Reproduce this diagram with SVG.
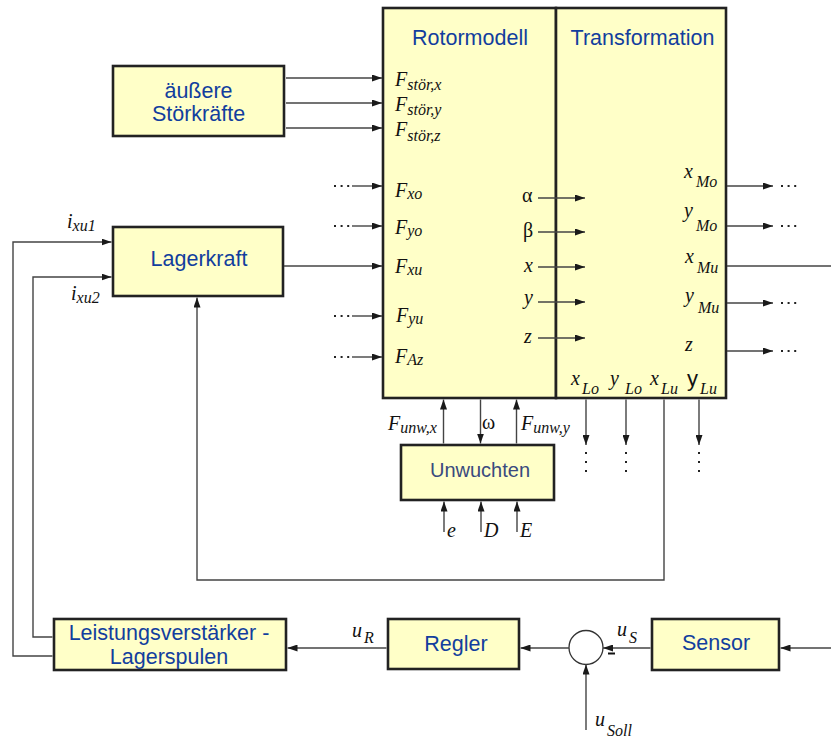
<svg xmlns="http://www.w3.org/2000/svg" width="831" height="738" viewBox="0 0 831 738">
<defs>
<marker id="ah" viewBox="0 0 10 7" refX="10" refY="3.5" markerWidth="10" markerHeight="7" markerUnits="userSpaceOnUse" orient="auto">
<path d="M0,0 L10,3.5 L0,7 z" fill="#1a1a1a"/>
</marker>
<style>
.box{fill:#ffffc8;stroke:#222;stroke-width:2.6}
.ln{fill:none;stroke:#444;stroke-width:1.4}
.ar{fill:none;stroke:#444;stroke-width:1.4;marker-end:url(#ah)}
.dots{fill:none;stroke:#222;stroke-width:2;stroke-dasharray:2 4.6}
.t{font-family:"Liberation Sans",Arial,sans-serif;font-size:21.5px;fill:#123e9e;text-anchor:middle}
.m{font-family:"Liberation Serif","Times New Roman",serif;font-style:italic;font-size:20px;fill:#111}
.s{font-size:16px}
.g{font-family:"Liberation Serif","Times New Roman",serif;font-size:20px;fill:#111}
</style>
</defs>

<g id="rotormodell">
<rect class="box" x="383" y="8" width="173" height="390"/>
<text class="t" x="470" y="45">Rotormodell</text>
<text class="m" x="395" y="86">F<tspan class="s" dy="4">stör,x</tspan></text>
<text class="m" x="395" y="110.5">F<tspan class="s" dy="4.5">stör,y</tspan></text>
<text class="m" x="395" y="136">F<tspan class="s" dy="5">stör,z</tspan></text>
<text class="m" x="395" y="197">F<tspan class="s" dy="2">xo</tspan></text>
<text class="m" x="395" y="234">F<tspan class="s" dy="2">yo</tspan></text>
<text class="m" x="395" y="273">F<tspan class="s" dy="2">xu</tspan></text>
<text class="m" x="396" y="321.5">F<tspan class="s" dy="2">yu</tspan></text>
<text class="m" x="395" y="363">F<tspan class="s" dy="2">Az</tspan></text>
<text class="g" x="522" y="202">α</text>
<text class="g" x="523" y="237">β</text>
<text class="m" x="524" y="271.5">x</text>
<text class="m" x="524" y="304">y</text>
<text class="m" x="524" y="343">z</text>
</g>

<g id="transformation">
<rect class="box" x="556" y="8" width="170" height="390"/>
<text class="t" x="642.5" y="45">Transformation</text>
<text class="m" x="684" y="178">x<tspan class="s" x="696" y="187">Mo</tspan></text>
<text class="m" x="684" y="217">y<tspan class="s" x="696" y="231">Mo</tspan></text>
<text class="m" x="685" y="263">x<tspan class="s" x="697" y="273">Mu</tspan></text>
<text class="m" x="685" y="302">y<tspan class="s" x="698" y="313">Mu</tspan></text>
<text class="m" x="685" y="351">z</text>
<text class="m" x="571" y="385">x<tspan class="s" x="582" y="394">Lo</tspan></text>
<text class="m" x="610" y="385">y<tspan class="s" x="625" y="394">Lo</tspan></text>
<text class="m" x="650" y="385">x<tspan class="s" x="661" y="394">Lu</tspan></text>
<text x="687" y="386" style="font-family:'Liberation Sans',Arial,sans-serif;font-size:22px;fill:#111">y<tspan class="m s" x="700" y="394">Lu</tspan></text>
</g>

<g id="stoerkraefte">
<rect class="box" x="113" y="66" width="171" height="70"/>
<text class="t" x="198.5" y="98">äußere</text>
<text class="t" x="198.5" y="121">Störkräfte</text>
</g>

<g id="lagerkraft">
<rect class="box" x="113" y="227" width="170" height="69"/>
<text class="t" x="199" y="266">Lagerkraft</text>
<text class="m" x="67" y="228">i<tspan class="s" dy="3">xu1</tspan></text>
<text class="m" x="71" y="300">i<tspan class="s" dy="3">xu2</tspan></text>
</g>

<g id="unwuchten">
<rect class="box" x="401" y="445" width="153" height="55"/>
<text class="t" x="480" y="477" style="fill:#3a4a7e;font-size:20px">Unwuchten</text>
<text class="m" x="388" y="430">F<tspan class="s" dy="3">unw,x</tspan></text>
<text class="g" x="482" y="429">ω</text>
<text class="m" x="521" y="430">F<tspan class="s" dy="3">unw,y</tspan></text>
<text class="m" x="447" y="537">e</text>
<text class="m" x="484" y="537">D</text>
<text class="m" x="520" y="537">E</text>
</g>

<g id="leistungsverstaerker">
<rect class="box" x="54" y="619" width="232" height="51"/>
<text class="t" x="169" y="640">Leistungsverstärker -</text>
<text class="t" x="169" y="664">Lagerspulen</text>
</g>

<g id="regler">
<rect class="box" x="388" y="619" width="131" height="50"/>
<text class="t" x="456" y="651">Regler</text>
<text class="m" x="352" y="637">u<tspan class="s" x="364" y="643">R</tspan></text>
</g>

<g id="summe">
<circle cx="586" cy="647.5" r="17" fill="#fff" stroke="#333" stroke-width="1.3"/>
<line x1="608" y1="653.5" x2="615" y2="653.5" stroke="#111" stroke-width="2"/>
<text class="m" x="617" y="636">u<tspan class="s" x="629" y="643">S</tspan></text>
<text class="m" x="595" y="726">u<tspan class="s" x="607" y="736">Soll</tspan></text>
</g>

<g id="sensor">
<rect class="box" x="652" y="619" width="127" height="51"/>
<text class="t" x="716" y="650">Sensor</text>
</g>

<g id="connectors">
<line class="ar" x1="286" y1="78" x2="382" y2="78"/>
<line class="ar" x1="286" y1="103" x2="382" y2="103"/>
<line class="ar" x1="286" y1="128" x2="382" y2="128"/>
<line class="dots" x1="334" y1="186" x2="352" y2="186"/><line class="ar" x1="352" y1="186" x2="382" y2="186"/>
<line class="dots" x1="334" y1="226" x2="352" y2="226"/><line class="ar" x1="352" y1="226" x2="382" y2="226"/>
<line class="ar" x1="284" y1="266" x2="382" y2="266"/>
<line class="dots" x1="334" y1="316" x2="352" y2="316"/><line class="ar" x1="352" y1="316" x2="382" y2="316"/>
<line class="dots" x1="334" y1="357" x2="352" y2="357"/><line class="ar" x1="352" y1="357" x2="382" y2="357"/>
<line class="ar" x1="538" y1="198" x2="585" y2="198"/>
<line class="ar" x1="538" y1="232" x2="585" y2="232"/>
<line class="ar" x1="538" y1="267" x2="585" y2="267"/>
<line class="ar" x1="538" y1="302" x2="585" y2="302"/>
<line class="ar" x1="538" y1="338" x2="585" y2="338"/>
<line class="ar" x1="727" y1="186" x2="773" y2="186"/><line class="dots" x1="781" y1="186" x2="797" y2="186"/>
<line class="ar" x1="727" y1="226" x2="773" y2="226"/><line class="dots" x1="781" y1="226" x2="797" y2="226"/>
<line class="ln" x1="727" y1="266" x2="831" y2="266"/>
<line class="ar" x1="727" y1="303" x2="773" y2="303"/><line class="dots" x1="781" y1="303" x2="797" y2="303"/>
<line class="ar" x1="727" y1="351" x2="773" y2="351"/><line class="dots" x1="781" y1="351" x2="797" y2="351"/>
<line class="ar" x1="586" y1="399.5" x2="586" y2="445"/>
<line class="ar" x1="626" y1="399.5" x2="626" y2="445"/>
<line class="ar" x1="699" y1="399.5" x2="699" y2="445"/>
<line class="dots" x1="586" y1="452" x2="586" y2="474" style="stroke-dasharray:2 7"/>
<line class="dots" x1="626" y1="452" x2="626" y2="474" style="stroke-dasharray:2 7"/>
<line class="dots" x1="699" y1="452" x2="699" y2="474" style="stroke-dasharray:2 7"/>
<polyline class="ar" points="664,399.5 664,580 197,580 197,297.5"/>
<line class="ar" x1="443.5" y1="443.5" x2="443.5" y2="399.5"/>
<line class="ar" x1="480.5" y1="399.5" x2="480.5" y2="443.5"/>
<line class="ar" x1="516.5" y1="443.5" x2="516.5" y2="399.5"/>
<line class="ar" x1="444" y1="532" x2="444" y2="501.5"/>
<line class="ar" x1="481" y1="532" x2="481" y2="501.5"/>
<line class="ar" x1="517" y1="532" x2="517" y2="501.5"/>
<polyline class="ar" points="52.5,656 13,656 13,242 111.5,242"/>
<polyline class="ar" points="52.5,637 33,637 33,277 111.5,277"/>
<line class="ar" x1="831" y1="648" x2="780.5" y2="648"/>
<line class="ar" x1="650.5" y1="648" x2="603" y2="648"/>
<line class="ar" x1="569" y1="648" x2="520.5" y2="648"/>
<line class="ar" x1="386.5" y1="648" x2="287.5" y2="648"/>
<line class="ar" x1="586" y1="730" x2="586" y2="664.5"/>
</g>
</svg>
